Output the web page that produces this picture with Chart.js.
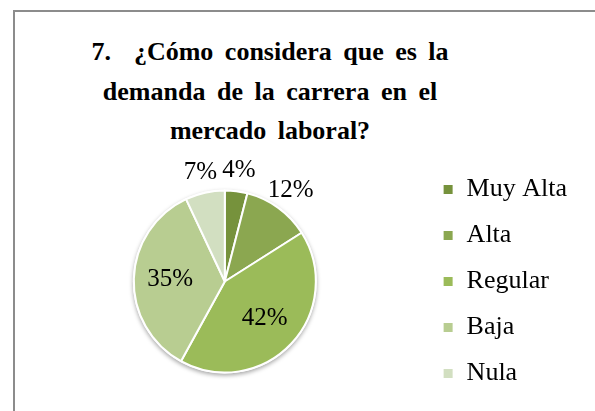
<!DOCTYPE html>
<html>
<head>
<meta charset="utf-8">
<script src="https://cdn.jsdelivr.net/npm/chart.js@4/dist/chart.umd.min.js"></script>
<style>
  html, body { margin: 0; padding: 0; background: #fff; overflow: hidden; }
  #frame { position: absolute; left: 13px; top: 10px; width: 600px; height: 420px;
           border-left: 2px solid #8c8c8c; border-top: 2px solid #8c8c8c; }
  #title { position: absolute; left: 0; top: 32px; width: 540px; text-align: center;
           font: bold 26px "Liberation Serif", "Times New Roman", serif; line-height: 39.5px;
           word-spacing: 5px; color: #000; }
  #wrap { position: absolute; left: 0; top: 150px; width: 595px; height: 261px; }
</style>
</head>
<body>
<div id="frame"></div>
<div id="title">7.&nbsp; ¿Cómo considera que es la<br>demanda de la carrera en el<br>mercado laboral?</div>
<div id="wrap"><canvas id="pieChart"></canvas></div>
<script>
// categories and values (percent)
var categories = ['Muy Alta', 'Alta', 'Regular', 'Baja', 'Nula'];
var percents = [4, 12, 42, 35, 7];
var colors = ['#76923C', '#8BA750', '#9BBB59', '#B8CD91', '#D2DFC1'];

// soft shadow under the pie, like the Office chart
var pieShadow = {
    id: 'pieShadow',
    beforeDatasetsDraw: function (chart) {
        var arc = chart.getDatasetMeta(0).data[0];
        if (!arc) return;
        var p = arc.getProps(['x', 'y', 'outerRadius'], true);
        var ctx = chart.ctx;
        ctx.save();
        ctx.shadowColor = 'rgba(0,0,0,0.35)';
        ctx.shadowBlur = 4;
        ctx.shadowOffsetY = 2;
        ctx.fillStyle = '#ffffff';
        ctx.beginPath();
        ctx.arc(p.x, p.y, p.outerRadius + 1, 0, Math.PI * 2);
        ctx.fill();
        ctx.restore();
    }
};

// percent labels: big slices inside, small ones outside
var pctLabels = {
    id: 'pctLabels',
    afterDatasetsDraw: function (chart) {
        var ctx = chart.ctx;
        var meta = chart.getDatasetMeta(0);
        ctx.save();
        ctx.font = '25px "Liberation Serif", "Times New Roman", serif';
        ctx.fillStyle = '#000';
        ctx.textAlign = 'center';
        ctx.textBaseline = 'middle';
        meta.data.forEach(function (arc, i) {
            var p = arc.getProps(['x', 'y', 'startAngle', 'endAngle', 'outerRadius'], true);
            var mid = (p.startAngle + p.endAngle) / 2;
            var r = percents[i] >= 15 ? p.outerRadius * 0.6 : p.outerRadius + 21;
            ctx.fillText(percents[i] + '%', p.x + Math.cos(mid) * r, p.y + Math.sin(mid) * r);
        });
        ctx.restore();
    }
};

var ctx = document.getElementById('pieChart').getContext('2d');
var pieChart = new Chart(ctx, {
    type: 'pie',
    data: {
        labels: categories,
        datasets: [{
            data: percents,
            backgroundColor: colors,
            borderColor: '#ffffff',
            borderWidth: 2,
            radius: 91
        }]
    },
    options: {
        responsive: true,
        maintainAspectRatio: false,
        animation: false,
        layout: { padding: { left: 27, right: 18, top: 2, bottom: 0 } },
        plugins: {
            tooltip: { enabled: false },
            legend: {
                position: 'right',
                labels: {
                    boxWidth: 11,
                    boxHeight: 11,
                    padding: 20,
                    color: '#000',
                    font: { family: '"Liberation Serif", "Times New Roman", serif', size: 26 }
                }
            }
        }
    },
    plugins: [pieShadow, pctLabels]
});
</script>
</body>
</html>
